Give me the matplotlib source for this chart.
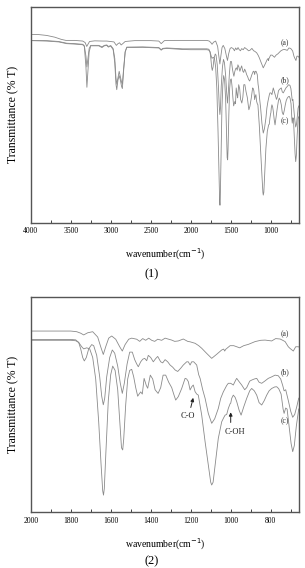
import matplotlib
matplotlib.use("Agg")
import matplotlib.pyplot as plt

plt.rcParams['font.family'] = ['Liberation Serif', 'DejaVu Serif']

# ---- Spectrum (a) ----
wn_a = [4000, 3900, 3800, 3700, 3620, 3560, 3450, 3350, 3320, 3300, 3285, 3265, 3200, 3100,
        3050, 2960, 2930, 2910, 2890, 2870, 2850, 2820, 2700, 2500, 2400, 2370, 2350, 2330,
        2200, 2000, 1800, 1770, 1750, 1735, 1715, 1690, 1665, 1650, 1637, 1625, 1610, 1595,
        1575, 1555, 1542, 1528, 1510, 1495, 1470, 1455, 1440, 1425, 1410, 1395, 1380, 1365,
        1345, 1328, 1310, 1295, 1280, 1262, 1237, 1215, 1203, 1178, 1160, 1145, 1120, 1095,
        1070, 1045, 1035, 1030, 1025, 1003, 985, 970, 955, 935, 912, 878, 850, 828, 795, 775,
        753, 740, 728, 712, 703, 687, 675, 662, 650]
t_a = [87.1, 87.0, 86.6, 85.8, 84.8, 84.3, 84.3, 84.0, 83.3, 81.5, 82.5, 83.8, 84.1, 84.0,
       84.0, 83.6, 82.0, 82.8, 83.2, 82.2, 82.8, 83.8, 84.2, 84.2, 84.0, 82.8, 83.5, 84.2,
       84.3, 84.3, 84.3, 84.0, 83.3, 82.5, 83.5, 84.0, 81.5, 77.0, 73.4, 77.0, 81.0, 82.0,
       80.5, 77.0, 75.0, 78.0, 80.5, 81.0, 80.5, 79.5, 80.8, 80.0, 81.0, 80.0, 79.5, 80.5,
       80.0, 81.0, 80.5, 80.1, 79.5, 79.7, 80.6, 79.5, 79.3, 78.6, 77.5, 76.3, 73.9, 71.6,
       73.5, 75.5, 75.9, 75.0, 75.8, 77.5, 77.5, 77.0, 76.5, 77.5, 78.1, 79.4, 80.0, 80.1,
       79.7, 80.8, 80.6, 80.0, 79.4, 77.0, 76.2, 75.0, 77.0, 77.0, 76.5]

# ---- Spectrum (b) ----
wn_b = [4000, 3800, 3650, 3550, 3450, 3350, 3330, 3310, 3298, 3285, 3270, 3250, 3150, 3110,
        3080, 3050, 3030, 3000, 2970, 2950, 2935, 2925, 2910, 2895, 2880, 2865, 2855, 2840,
        2820, 2800, 2600, 2400, 2370, 2350, 2300, 2100, 2000,
        1800, 1775, 1760, 1750, 1740, 1732, 1722, 1710, 1695, 1685, 1670, 1655, 1645, 1637,
        1630, 1620, 1605, 1592, 1580, 1565, 1552, 1542, 1532, 1518, 1505, 1492, 1480, 1470,
        1462, 1450, 1440, 1430, 1420, 1412, 1400, 1387, 1375, 1365, 1350, 1340, 1328, 1315,
        1303, 1290, 1278, 1265, 1250, 1237, 1220, 1212, 1203, 1195, 1185, 1170, 1160, 1153,
        1140, 1128, 1112, 1095, 1080, 1062, 1050, 1037, 1020, 1012, 1000, 987, 975, 970, 960,
        945, 930, 920, 905, 895, 882, 870, 858, 845, 830, 812, 795, 778, 762, 750, 740, 733,
        725, 712, 700, 690, 680, 670, 660, 650]
t_b = [84.3, 84.2, 83.8, 83.0, 82.8, 82.5, 81.8, 77.0, 72.0, 76.0, 80.5, 82.0, 82.0, 81.3,
       82.0, 82.2, 81.5, 81.9, 80.5, 76.0, 67.0, 64.0, 67.0, 70.0, 67.5, 65.0, 64.0, 71.0,
       79.0, 81.2, 81.3, 81.0, 80.0, 80.6, 80.8, 80.4, 80.4,
       80.4, 80.2, 79.0, 76.0, 72.0, 70.4, 72.0, 76.0, 78.0, 77.5, 73.0, 63.0, 54.0, 50.0,
       53.0, 63.0, 72.0, 75.5, 74.0, 68.0, 60.0, 55.3, 60.0, 69.0, 74.5, 74.5, 71.0, 69.0,
       67.7, 70.0, 71.2, 71.6, 70.5, 73.0, 72.0, 70.0, 71.5, 72.5, 70.0, 69.5, 71.0, 70.0,
       68.5, 67.5, 66.2, 65.5, 67.0, 68.5, 70.0, 70.0, 68.5, 70.0, 70.0, 68.5, 64.0, 62.3,
       57.0, 53.0, 46.0, 41.4, 43.5, 48.3, 53.0, 56.0, 59.0, 60.0, 60.0, 59.2, 61.5, 62.3, 61.0,
       59.2, 57.0, 58.0, 61.0, 61.5, 62.0, 62.3, 60.5, 60.0, 61.0, 62.3, 63.0, 63.8, 63.5,
       62.0, 59.0, 56.5, 57.0, 52.0, 47.0, 44.2, 45.5, 49.0, 53.0, 54.0]

# ---- Spectrum (c) ----
wn_c = [4000, 3800, 3650, 3550, 3450, 3350, 3330, 3310, 3298, 3285, 3270, 3250, 3150, 3110,
        3080, 3050, 3030, 3000, 2970, 2950, 2935, 2925, 2910, 2895, 2880, 2865, 2855, 2840,
        2820, 2800, 2600, 2400, 2370, 2350, 2300, 2100, 2000,
        1800, 1775, 1760, 1745, 1735, 1720, 1705, 1690, 1675, 1660, 1648, 1640, 1636, 1632,
        1624, 1612, 1600, 1590, 1578, 1565, 1555, 1546, 1540, 1535, 1525, 1515, 1505, 1495,
        1485, 1475, 1465, 1458, 1450, 1442, 1433, 1422, 1415, 1402, 1390, 1378, 1363, 1350,
        1338, 1325, 1310, 1295, 1285, 1275, 1262, 1245, 1228, 1220, 1212, 1203, 1195, 1187,
        1178, 1170, 1162, 1150, 1145, 1128, 1112, 1100, 1095, 1088, 1078, 1062, 1045, 1035,
        1028, 1020, 1012, 1003, 1000, 995, 987, 978, 970, 958, 948, 935, 920, 905, 895, 882,
        870, 858, 845, 832, 820, 808, 795, 780, 770, 760, 748, 738, 733, 725, 718, 708, 698,
        690, 682, 672, 660, 650]
t_c = [84.2, 84.0, 83.6, 82.8, 82.6, 82.3, 81.5, 72.0, 62.6, 70.0, 79.0, 81.8, 81.8, 81.0,
       81.8, 82.0, 81.2, 81.7, 80.0, 74.0, 64.0, 61.5, 66.0, 68.0, 66.0, 63.0, 62.0, 70.0,
       79.0, 81.0, 81.1, 80.8, 79.8, 80.4, 80.6, 80.1, 80.0,
       80.0, 79.8, 79.0, 77.0, 76.0, 76.5, 76.0, 72.0, 62.0, 42.0, 22.0, 10.0, 8.0, 11.0,
       28.0, 52.0, 64.0, 68.0, 66.0, 57.0, 43.0, 30.0, 29.0, 34.0, 50.0, 62.0, 66.0, 66.5,
       63.0, 58.0, 54.0, 55.0, 56.0, 55.0, 62.3, 59.0, 57.7, 63.8, 62.0, 57.0, 55.3, 58.0,
       63.8, 63.8, 60.5, 58.0, 55.0, 52.2, 53.8, 57.6, 62.3, 62.0, 60.8, 56.9, 58.4, 59.2,
       56.1, 55.0, 54.5, 48.0, 45.2, 32.8, 22.0, 14.0, 12.7, 14.0, 22.0, 34.4, 42.1, 44.0,
       45.2, 45.5, 48.3, 50.5, 50.7, 53.0, 54.5, 53.5, 51.5, 47.5, 45.2, 49.0, 53.0, 56.5,
       57.6, 56.5, 54.5, 51.0, 49.9, 52.0, 54.5, 56.5, 57.6, 58.3, 58.4, 57.5, 55.0, 48.0,
       46.0, 48.5, 48.0, 40.0, 32.0, 28.2, 31.0, 40.0, 48.0, 49.0]

xticks1 = [4000, 3500, 3000, 2500, 2000, 1500, 1000]
xticks2 = [2000, 1800, 1600, 1400, 1200, 1000, 800]
curve_labels = ['(a)', '(b)', '(c)']

W, H = 305, 568
fig = plt.figure(figsize=(W / 100, H / 100), dpi=100)

left = 30.7 / W
width = 268.6 / W
ax1 = fig.add_axes([left, 1 - 222.5 / H, width, 216 / H])
ax2 = fig.add_axes([left, 1 - 512.3 / H, width, 215 / H])

lc = '#8a8a8a'
for ax, xl, ticks, minor in [(ax1, (4000, 645), xticks1, 250), (ax2, (2000, 657), xticks2, 100)]:
    for wn, t in [(wn_a, t_a), (wn_b, t_b), (wn_c, t_c)]:
        ax.plot(wn, t, color=lc, lw=0.6)
    ax.set_xlim(*xl)
    ax.set_ylim(0, 100)
    ax.set_xticks(ticks)
    ax.set_xticks([v for v in range(ticks[0], 600, -minor) if v not in ticks and v > xl[1]], minor=True)
    ax.set_yticks([])
    ax.tick_params(axis='x', which='both', direction='in', labelsize=5.5, pad=3.5,
                   color='#444444', width=0.7)
    ax.tick_params(axis='x', which='major', length=2.5)
    ax.tick_params(axis='x', which='minor', length=2.0)
    for s in ax.spines.values():
        s.set_color('#555555')
        s.set_linewidth(1.0)
    ax.set_xlabel('wavenumber(cm$^{-1}$)', fontsize=7, labelpad=8)
    ax.set_ylabel('Transmittance (% T)', fontsize=8.5, labelpad=8)

# curve labels panel 1
for lab, y in zip(curve_labels, [83.0, 66.0, 46.7]):
    ax1.text(821, y, lab, fontsize=5.5, ha='center', va='center', color='#333333')
# curve labels panel 2
for lab, y in zip(curve_labels, [82.8, 65.1, 42.5]):
    ax2.text(728, y, lab, fontsize=5.5, ha='center', va='center', color='#333333')

ax2.annotate('', xy=(1184, 54.5), xytext=(1203, 47.5),
             arrowprops=dict(arrowstyle='-|>', color='#222222', lw=0.7, mutation_scale=5))
ax2.text(1212, 44.8, 'C-O', fontsize=6, ha='center', va='center', color='#222222')
ax2.annotate('', xy=(1000, 47.8), xytext=(1000, 40.5),
             arrowprops=dict(arrowstyle='-|>', color='#222222', lw=0.7, mutation_scale=5))
ax2.text(978, 37.2, 'C-OH', fontsize=6, ha='center', va='center', color='#222222')

fig.text(152 / W, 1 - 274 / H, '(1)', fontsize=9, ha='center', va='center')
fig.text(152 / W, 1 - 561 / H, '(2)', fontsize=9, ha='center', va='center')

fig.savefig('out.png', dpi=100)
